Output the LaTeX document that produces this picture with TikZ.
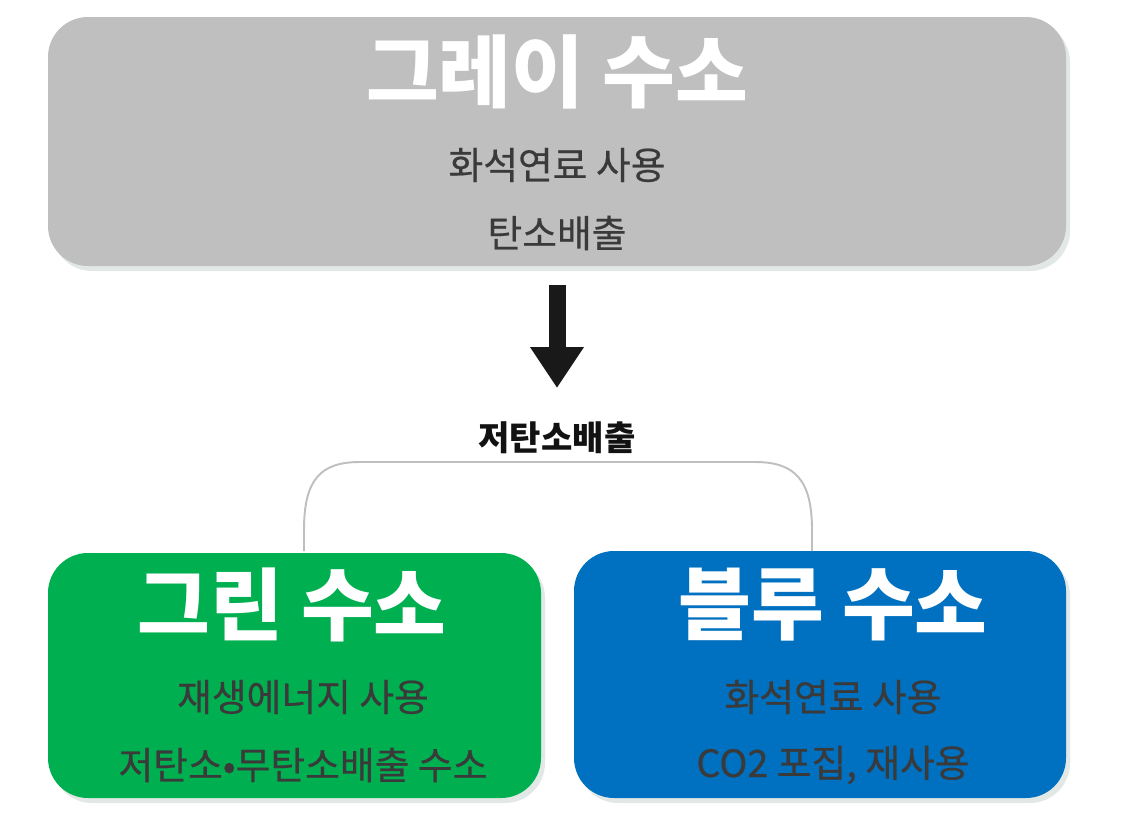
\documentclass[tikz,border=0pt]{standalone}
\usepackage{fontspec}
\usepackage{tikz}
\usetikzlibrary{arrows.meta, shadows}
\newfontfamily\kr{Noto Sans CJK KR}
\newfontfamily\krmed[FakeBold=0.5]{Noto Sans CJK KR}
\definecolor{boxgray}{HTML}{BFBFBF}
\definecolor{boxgreen}{HTML}{00B050}
\definecolor{boxblue}{HTML}{0070C0}
\definecolor{subtext}{HTML}{3A3A3A}
\definecolor{shade}{HTML}{C5D2CB}

\begin{document}
\begin{tikzpicture}[font=\kr,
  card/.style={rounded corners=0.8cm, drop shadow={shadow xshift=0.08cm, shadow yshift=-0.1cm, fill=shade}},
  title/.style={text=white, font=\kr\bfseries\fontsize{45}{50}\selectfont},
  sub/.style={text=subtext, font=\krmed\fontsize{21.5}{25}\selectfont}]
  % 1 px of the 1136 x 814 frame = 0.02 cm, origin top left
  \useasboundingbox (0,0) rectangle (22.72,-16.28);
  \node[card, fill=boxgray, minimum width=20.36cm, minimum height=4.98cm] (gray) at (11.14,-2.83) {};
  \node[card, fill=boxgreen, minimum width=9.86cm, minimum height=4.9cm] (green) at (5.89,-13.51) {};
  \node[card, fill=boxblue, minimum width=9.84cm, minimum height=4.94cm] (blue) at (16.40,-13.49) {};
  \node[title] (grayt) at (11.14,-1.44) {그레이 수소};
  \node[sub] (gray1) at (11.14,-3.30) {화석연료 사용};
  \node[sub] (gray2) at (11.14,-4.66) {탄소배출};
  \node[title] (greent) at (5.84,-12.10) {그린 수소};
  \node[sub] (green1) at (6.06,-13.94) {재생에너지 사용};
  \node[sub] (green2) at (6.06,-15.30) {저탄소•무탄소배출 수소};
  \node[title] (bluet) at (16.66,-12.10) {블루 수소};
  \node[sub] (blue1) at (16.66,-13.94) {화석연료 사용};
  \node[sub] (blue2) at (16.66,-15.30) {CO2 포집, 재사용};
  \node[font=\kr\bfseries\fontsize{19.4}{22}\selectfont, text=black!93] (low) at (11.14,-8.76) {저탄소배출};
  \draw[line width=0.34cm, black!90, -{Triangle[width=1.02cm, length=0.82cm]}, shorten <=0.38cm, shorten >=1.0cm] (gray.south) -- (low.center);
  % bracket over the two lower cards
  \coordinate (bl) at (6.08,-11.02); \coordinate (br) at (16.24,-11.02);
  \draw[boxgray, line width=1.1pt] (bl) -- (6.08,-10.6) .. controls (6.08,-9.6) and (6.4,-9.24) .. (7.2,-9.24)
    -- (15.1,-9.24) .. controls (15.9,-9.24) and (16.24,-9.6) .. (16.24,-10.6) -- (br);
\end{tikzpicture}
\end{document}
